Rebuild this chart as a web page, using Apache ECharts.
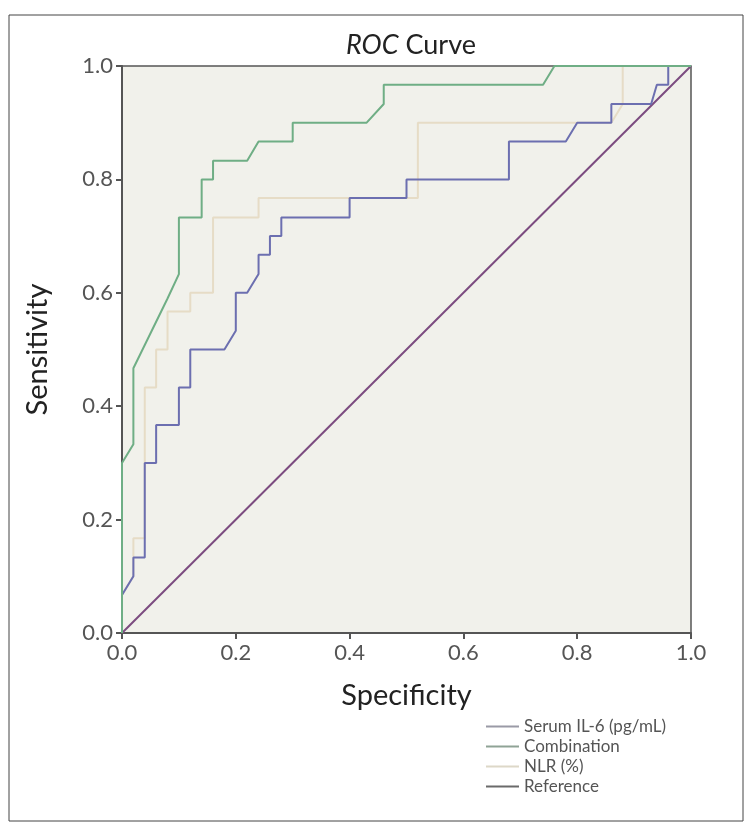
<!DOCTYPE html>
<html>
<head>
<meta charset="utf-8">
<script src="https://cdn.jsdelivr.net/npm/echarts@6/dist/echarts.min.js"></script>
<style>
  html, body { margin: 0; padding: 0; background: #fff; }
  #chart { width: 753px; height: 834px; }
</style>
</head>
<body>
<div id="chart"></div>
<script>
// ROC data (x = 1 - specificity, y = sensitivity)
var il6Fpr = [0, 0, 0.02, 0.02, 0.04, 0.04, 0.06, 0.06, 0.1, 0.1, 0.12, 0.12, 0.18, 0.2, 0.2, 0.22, 0.24, 0.24, 0.26, 0.26, 0.28, 0.28, 0.4, 0.4, 0.5, 0.5, 0.68, 0.68, 0.78, 0.8, 0.86, 0.86, 0.93, 0.94, 0.96, 0.96, 1];
var il6Tpr = [0, 0.067, 0.1, 0.133, 0.133, 0.3, 0.3, 0.367, 0.367, 0.433, 0.433, 0.5, 0.5, 0.533, 0.6, 0.6, 0.633, 0.667, 0.667, 0.7, 0.7, 0.733, 0.733, 0.767, 0.767, 0.8, 0.8, 0.867, 0.867, 0.9, 0.9, 0.933, 0.933, 0.967, 0.967, 1, 1];

var comboFpr = [0, 0, 0.02, 0.02, 0.08, 0.1, 0.1, 0.14, 0.14, 0.16, 0.16, 0.22, 0.24, 0.3, 0.3, 0.43, 0.46, 0.46, 0.74, 0.76, 1];
var comboTpr = [0, 0.3, 0.333, 0.467, 0.59, 0.633, 0.733, 0.733, 0.8, 0.8, 0.833, 0.833, 0.867, 0.867, 0.9, 0.9, 0.933, 0.967, 0.967, 1, 1];

var nlrFpr = [0, 0, 0.02, 0.02, 0.04, 0.04, 0.06, 0.06, 0.08, 0.08, 0.12, 0.12, 0.16, 0.16, 0.24, 0.24, 0.52, 0.52, 0.86, 0.88, 0.88, 1];
var nlrTpr = [0, 0.067, 0.1, 0.167, 0.167, 0.433, 0.433, 0.5, 0.5, 0.567, 0.567, 0.6, 0.6, 0.733, 0.733, 0.767, 0.767, 0.9, 0.9, 0.933, 1, 1];

var refFpr = [0, 1];
var refTpr = [0, 1];

var seriesNames = ['Serum IL-6 (pg/mL)', 'Combination', 'NLR (%)', 'Reference'];
var tickLabels = ['0.0', '0.2', '0.4', '0.6', '0.8', '1.0'];

function pairs(xs, ys) {
  var out = [];
  for (var i = 0; i < xs.length; i++) out.push([xs[i], ys[i]]);
  return out;
}

var myChart = echarts.init(document.getElementById('chart'));
var axisText = { color: '#555', fontSize: 22, fontFamily: 'Lato' };

var option = {
  backgroundColor: '#fff',
  animation: false,
  title: {
    text: '{i|ROC} Curve',
    left: 406,
    textAlign: 'center',
    top: 27,
    textStyle: {
      fontFamily: 'Lato',
      fontSize: 27,
      fontWeight: 'normal',
      color: '#222',
      rich: {
        i: { fontFamily: 'Lato', fontSize: 27, fontStyle: 'italic', color: '#222' }
      }
    }
  },
  graphic: [
    {
      type: 'rect',
      shape: { x: 9, y: 15, width: 734, height: 806 },
      style: { fill: 'none', stroke: '#444', lineWidth: 1 },
      silent: true
    }
  ],
  legend: {
    orient: 'vertical',
    left: 481,
    top: 713,
    itemWidth: 33,
    itemHeight: 2,
    itemGap: 3,
    icon: 'rect',
    textStyle: { fontFamily: 'Lato', fontSize: 17, color: '#555' },
    data: [
      { name: seriesNames[0], itemStyle: { color: '#9a9aa6' } },
      { name: seriesNames[1], itemStyle: { color: '#8fa396' } },
      { name: seriesNames[2], itemStyle: { color: '#ddd8c8' } },
      { name: seriesNames[3], itemStyle: { color: '#6a6a6a' } }
    ]
  },
  grid: {
    left: 122,
    right: 62,
    top: 66,
    bottom: 201,
    show: true,
    backgroundColor: '#f1f1eb',
    borderColor: '#555',
    borderWidth: 1.5
  },
  xAxis: {
    type: 'value',
    min: 0,
    max: 1,
    interval: 0.2,
    name: 'Specificity',
    nameLocation: 'middle',
    nameGap: 48,
    nameTextStyle: { fontFamily: 'Lato', fontSize: 29, color: '#222' },
    axisLine: { show: true, onZero: false, lineStyle: { color: '#555', width: 2 } },
    axisTick: { show: true, length: 6, lineStyle: { color: '#555', width: 2 } },
    axisLabel: Object.assign({ margin: 9, formatter: function (v) { return tickLabels[Math.round(v * 5)]; } }, axisText),
    splitLine: { show: false }
  },
  yAxis: {
    type: 'value',
    min: 0,
    max: 1,
    interval: 0.2,
    name: 'Sensitivity',
    nameLocation: 'middle',
    nameGap: 70,
    nameTextStyle: { fontFamily: 'Lato', fontSize: 29, color: '#222' },
    axisLine: { show: true, onZero: false, lineStyle: { color: '#555', width: 2 } },
    axisTick: { show: true, length: 6, lineStyle: { color: '#555', width: 2 } },
    axisLabel: Object.assign({ margin: 9, formatter: function (v) { return tickLabels[Math.round(v * 5)]; } }, axisText),
    splitLine: { show: false }
  },
  series: [
    {
      name: seriesNames[3],
      type: 'line',
      data: pairs(refFpr, refTpr),
      showSymbol: false,
      z: 1,
      lineStyle: { color: '#7c4c80', width: 2 },
      itemStyle: { color: '#7c4c80' }
    },
    {
      name: seriesNames[2],
      type: 'line',
      data: pairs(nlrFpr, nlrTpr),
      showSymbol: false,
      z: 2,
      lineStyle: { color: '#e6dcc6', width: 2 },
      itemStyle: { color: '#e6dcc6' }
    },
    {
      name: seriesNames[0],
      type: 'line',
      data: pairs(il6Fpr, il6Tpr),
      showSymbol: false,
      z: 3,
      lineStyle: { color: '#6c6fb0', width: 2 },
      itemStyle: { color: '#6c6fb0' }
    },
    {
      name: seriesNames[1],
      type: 'line',
      data: pairs(comboFpr, comboTpr),
      showSymbol: false,
      z: 4,
      lineStyle: { color: '#6fae85', width: 2 },
      itemStyle: { color: '#6fae85' }
    }
  ]
};
myChart.setOption(option);
</script>
</body>
</html>
